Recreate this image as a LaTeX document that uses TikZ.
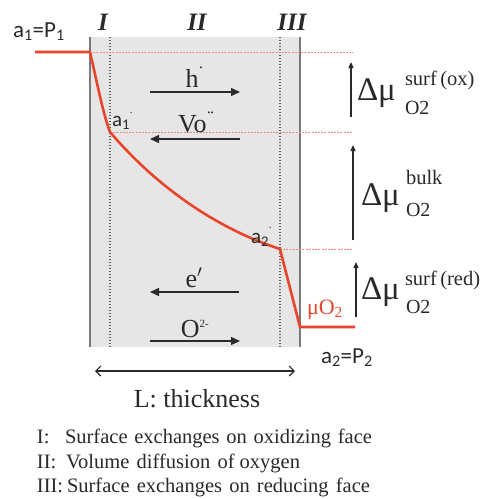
\documentclass[tikz,border=0pt]{standalone}
\usepackage{fontspec}
\setmainfont{Liberation Serif}
\newfontfamily\sansf{Carlito}
\usetikzlibrary{arrows.meta}
\definecolor{curvered}{HTML}{E8452C}
\definecolor{dashred}{HTML}{F08A7A}
\definecolor{boxgrey}{HTML}{E6E6E6}
\definecolor{edgegrey}{HTML}{7A7A7A}
\definecolor{dotgrey}{HTML}{5A5A5A}
\definecolor{ink}{HTML}{2A2A2A}
\newcommand\chgdot{\raisebox{0.62em}{\fontsize{8}{8}\selectfont\textbullet}}
\begin{document}
\begin{tikzpicture}[x=1pt,y=-1pt,
  txt/.style={inner sep=0pt, outer sep=0pt, text=ink},
  redline/.style={curvered, line width=2.6pt, line join=round},
  reddash/.style={dashred, line width=0.9pt, dash pattern=on 2pt off 1.2pt},
  edge/.style={edgegrey, line width=1.2pt},
  dotedge/.style={dotgrey, line width=1.2pt, dash pattern=on 1.4pt off 1.6pt},
  flux/.style={ink, line width=1.4pt, -{Triangle[length=9pt,width=8pt]}},
  vup/.style={ink, line width=1.3pt, -{Triangle[length=6pt,width=5pt]}},
  dim/.style={ink, line width=1.2pt, {Straight Barb[length=5pt,width=10pt]}-{Straight Barb[length=5pt,width=10pt]}},
  roman/.style={txt, font=\fontsize{25}{25}\selectfont\bfseries\itshape},
  carrier/.style={txt, anchor=base, font=\fontsize{26}{26}\selectfont},
  act/.style={txt, anchor=base west, font=\sansf\fontsize{23}{23}\selectfont},
  bigdmu/.style={txt, anchor=base west, font=\fontsize{33}{33}\selectfont},
  supsub/.style={txt, anchor=base west, font=\fontsize{20.5}{20.5}\selectfont},
  subo/.style={txt, anchor=base west, font=\fontsize{20}{20}\selectfont},
  legend/.style={txt, anchor=base west, font=\fontsize{20.5}{20.5}\selectfont}
]
\useasboundingbox (0,0) rectangle (484,499);
\fill[white] (0,0) rectangle (484,499);

% membrane body
\fill[boxgrey] (90,37) rectangle (300,347);
\draw[edge] (90,37) -- (90,347);
\draw[edge] (300,37) -- (300,347);
\draw[dotedge] (110,37) -- (110,347);
\draw[dotedge] (280,37) -- (280,347);

% red reference levels
\draw[reddash] (90,52) -- (353,52);
\draw[reddash] (110,132) -- (353,132);
\draw[reddash] (280,249) -- (353,249);

% chemical potential profile
\draw[redline] (35,52) -- (90,52)
  .. controls (97,82) and (103,114) .. (110,132)
  .. controls (155,185) and (215,228) .. (280,249)
  -- (300,327) -- (355,327);

% roman numerals
\node[roman] (r1) at (103,22) {I};
\node[roman] (r2) at (197,22) {II};
\node[roman] (r3) at (292,22) {III};

% activities
\node[act] (p1) at (13,37) {a\textsubscript{1}=P\textsubscript{1}};
\node[act, font=\sansf\fontsize{21}{21}\selectfont] (a1p) at (112,126) {a\textsubscript{1}\raisebox{0.5em}{\fontsize{9}{9}\selectfont ·}};
\node[act, font=\sansf\fontsize{21}{21}\selectfont] (a2p) at (251,243) {a\textsubscript{2}\raisebox{0.6em}{\fontsize{9}{9}\selectfont ·}};
\node[act] (p2) at (321,363) {a\textsubscript{2}=P\textsubscript{2}};
\node[txt, anchor=base west, text=curvered, font=\fontsize{22}{22}\selectfont] (muo) at (307,314) {μO\textsubscript{2}};

% carrier fluxes
\coordinate (hL) at (150,92);  \coordinate (hR) at (240,92);
\coordinate (vL) at (150,139); \coordinate (vR) at (240,139);
\coordinate (eL) at (150,292); \coordinate (eR) at (239,292);
\coordinate (oL) at (150,341); \coordinate (oR) at (240,341);
\draw[flux] (hL) -- (hR);
\draw[flux] (vR) -- (vL);
\draw[flux] (eR) -- (eL);
\draw[flux] (oL) -- (oR);
\node[carrier] (hlab) at (194,87) {h\kern1pt\chgdot};
\node[carrier] (vlab) at (196,132) {Vo\kern1pt\chgdot\kern0.5pt\chgdot};
\node[carrier] (elab) at (194,287) {e$^{\prime}$};
\node[carrier] (olab) at (195,337) {O\textsuperscript{\fontsize{11}{11}\selectfont 2-}};

% potential differences
\coordinate (u1b) at (351,117); \coordinate (u1t) at (351,62);
\coordinate (u2b) at (353,240); \coordinate (u2t) at (353,145);
\coordinate (u3b) at (356,317); \coordinate (u3t) at (356,262);
\draw[vup] (u1b) -- (u1t);
\draw[vup] (u2b) -- (u2t);
\draw[vup] (u3b) -- (u3t);

\node[bigdmu] (d1) at (357,100) {Δμ};
\node[supsub] (d1s) at (405,85) {surf\,(ox)};
\node[subo] (d1o) at (405,114) {O2};
\node[bigdmu] (d2) at (361,205) {Δμ};
\node[supsub] (d2s) at (406,184) {bulk};
\node[subo] (d2o) at (406,216) {O2};
\node[bigdmu] (d3) at (361,299) {Δμ};
\node[supsub] (d3s) at (405,285) {surf\,(red)};
\node[subo] (d3o) at (406,313) {O2};

% thickness
\coordinate (tL) at (95,371); \coordinate (tR) at (295,371);
\draw[dim] (tL) -- (tR);
\node[txt, anchor=base, font=\fontsize{26}{26}\selectfont] (thick) at (197,407) {L: thickness};

% legend
\node[legend] (l1n) at (37,443) {I:};
\node[legend] (l1) at (65,443) {\makebox[307pt][s]{Surface exchanges on oxidizing face}};
\node[legend] (l2n) at (37,468) {II:};
\node[legend] (l2) at (66,468) {\makebox[234pt][s]{Volume diffusion of\kern5pt oxygen}};
\node[legend] (l3n) at (37,492) {III:};
\node[legend] (l3) at (67,492) {\makebox[303pt][s]{Surface exchanges on reducing face}};
\end{tikzpicture}
\end{document}
